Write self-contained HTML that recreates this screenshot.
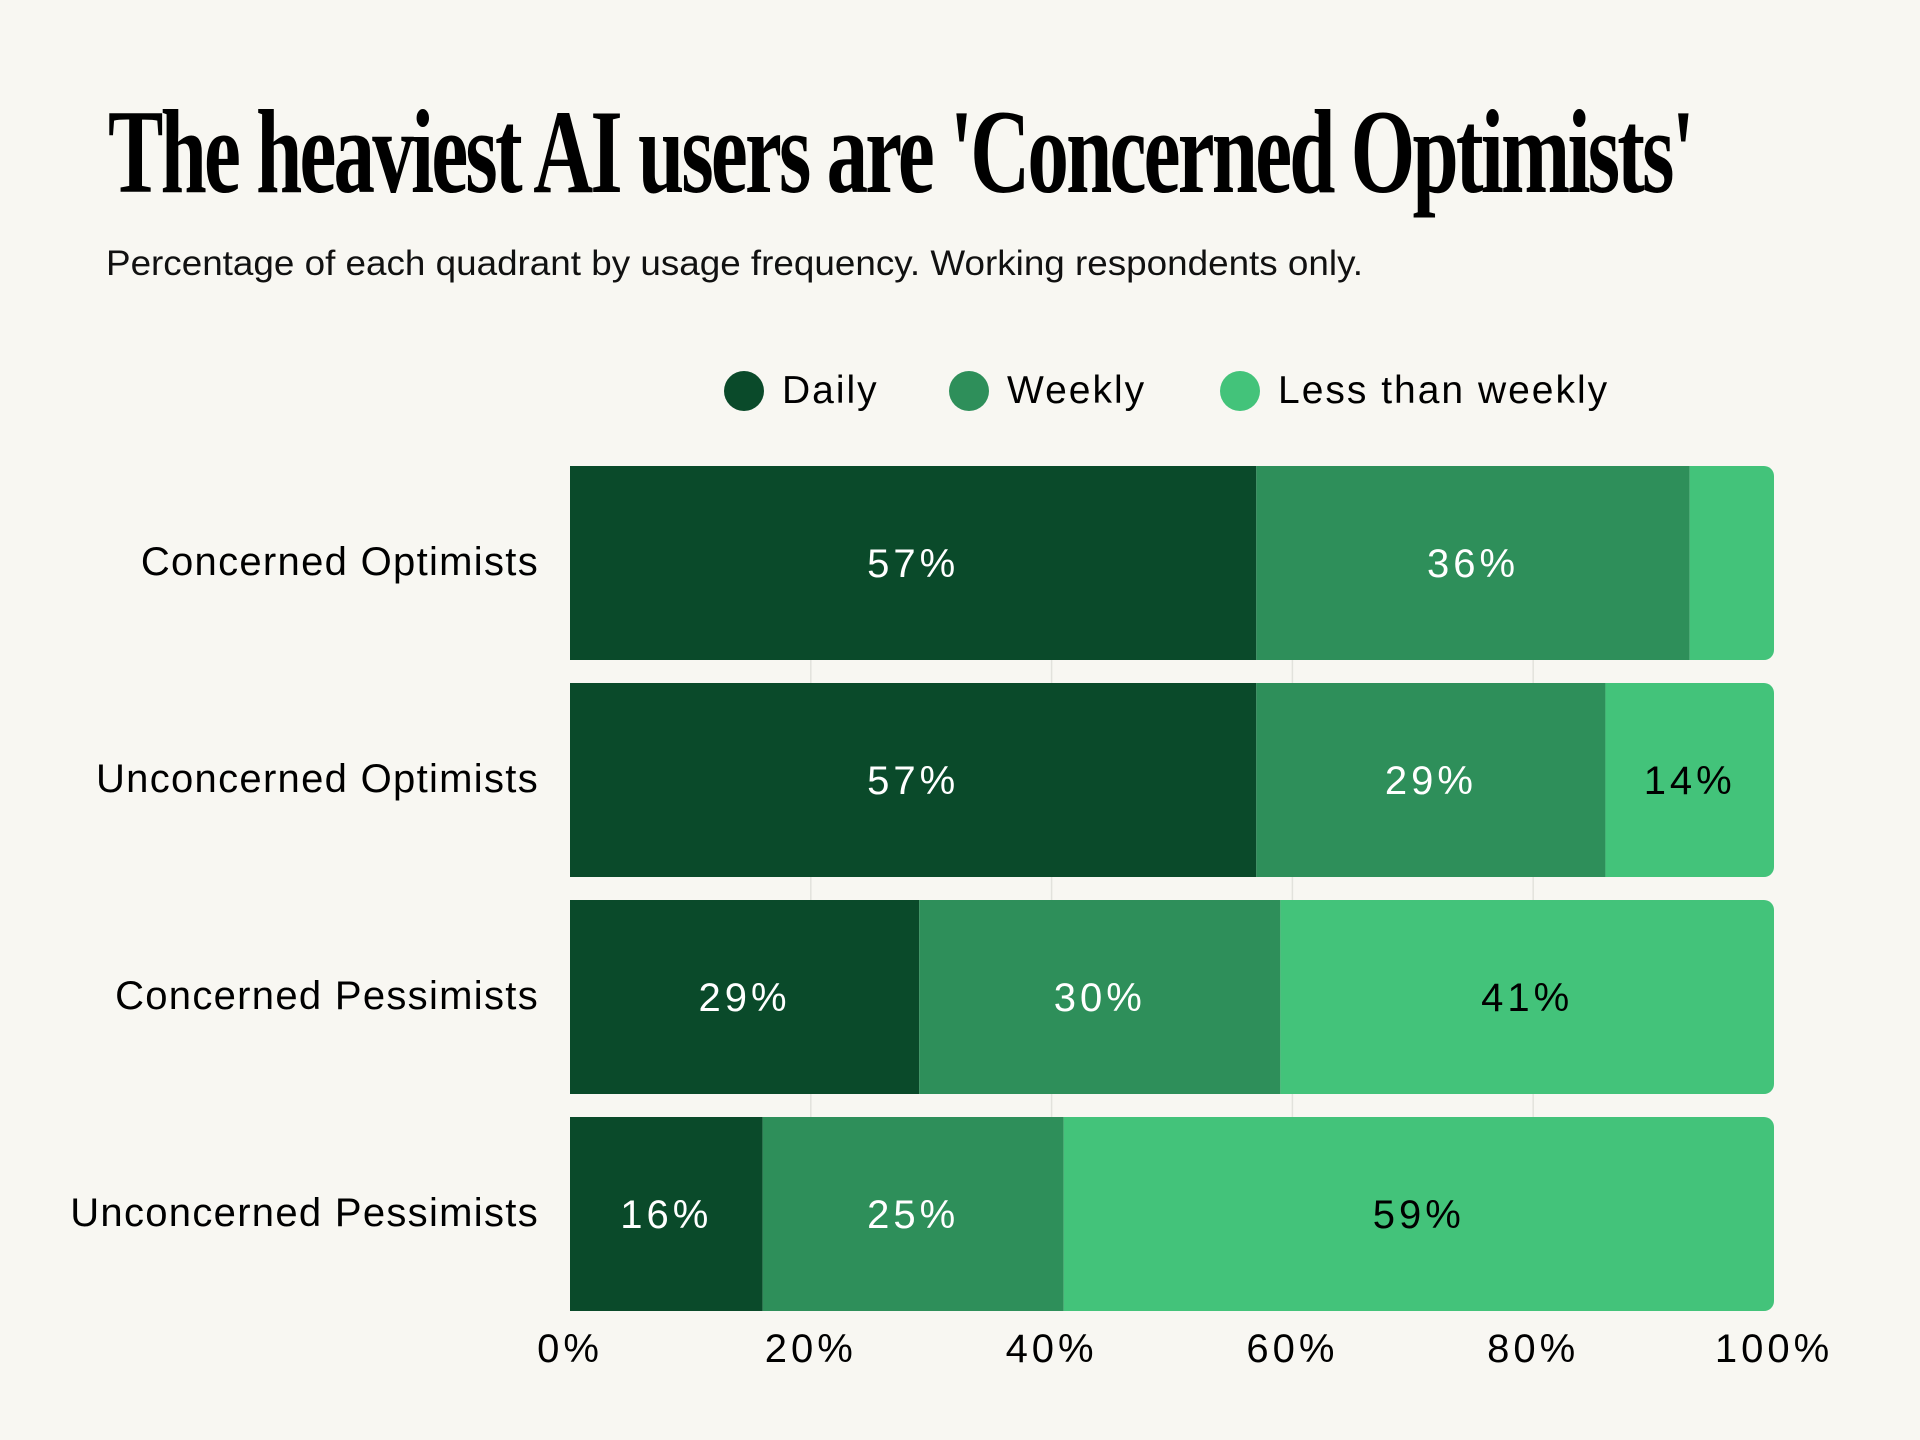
<!DOCTYPE html>
<html><head><meta charset="utf-8">
<style>
html,body{margin:0;padding:0;background:#f8f7f2;}
svg{display:block;}
</style></head>
<body>
<svg id="chart" width="1920" height="1440" viewBox="0 0 1920 1440" xmlns="http://www.w3.org/2000/svg">
<rect width="1920" height="1440" fill="#f8f7f2"/>
<text x="108" y="192" font-family="'Liberation Serif', serif" font-size="120" font-weight="bold" fill="#000" textLength="1584" lengthAdjust="spacingAndGlyphs" letter-spacing="-4">The heaviest AI users are 'Concerned Optimists'</text>
<text x="106" y="275" font-family="'Liberation Sans', sans-serif" font-size="35" fill="#111" textLength="1257" lengthAdjust="spacingAndGlyphs">Percentage of each quadrant by usage frequency. Working respondents only.</text>
<g id="legend"></g>
<g id="grid"></g>
<g id="bars"></g>
<g id="xaxis"></g>
<g id="yaxis"></g>
</svg>
<script>
const categories = ["Concerned Optimists","Unconcerned Optimists","Concerned Pessimists","Unconcerned Pessimists"];
const seriesNames = ["Daily","Weekly","Less than weekly"];
const daily = [57,57,29,16];
const weekly = [36,29,30,25];
const lessThanWeekly = [7,14,41,59];
const ticks = [0,20,40,60,80,100];
const tickLabels = ["0%","20%","40%","60%","80%","100%"];

const NS="http://www.w3.org/2000/svg";
const colors=["#0a4a2a","#2e8f5a","#43c37a"];
const textColors=["#fff","#fff","#000"];
const series=[daily,weekly,lessThanWeekly];
const X0=570,X1=1774,TOP=466,PITCH=217,BH=194;
const x=v=>X0+(X1-X0)*v/100;
const yb=i=>TOP+i*PITCH;
function el(tag,attrs,parent){const e=document.createElementNS(NS,tag);for(const k in attrs)e.setAttribute(k,attrs[k]);parent.appendChild(e);return e;}
const font="'Liberation Sans', sans-serif";

const grid=document.getElementById('grid');
ticks.forEach((t,i)=>{
  if(t===0||t===100)return;
  const l=el('line',{x1:x(t),x2:x(t),y1:TOP,y2:yb(3)+BH,stroke:"#e2e2dc","stroke-width":1.5},grid);
  
  
});

const bars=document.getElementById('bars');
categories.forEach((c,i)=>{
  let acc=0;
  const g=el('g',{},bars);
  
  
  const clipId='clip'+i;
  const cp=el('clipPath',{id:clipId},g);
  el('rect',{x:x(0)-20,y:yb(i),width:x(100)-x(0)+20,height:BH,rx:10},cp);
  series.forEach((s,j)=>{
    const v=s[i];
    const r=el('rect',{x:x(acc),y:yb(i),width:x(acc+v)-x(acc),height:BH,fill:colors[j],'clip-path':'url(#'+clipId+')'},g);
    
    
    if(v>=10){
      const t=el('text',{x:(x(acc)+x(acc+v))/2,y:yb(i)+BH/2+14,'text-anchor':'middle','font-family':font,'font-size':40,fill:textColors[j],'letter-spacing':4},g);
      t.textContent=v+"%";
      
      
    }
    acc+=v;
  });
});

const yaxis=document.getElementById('yaxis');
categories.forEach((c,i)=>{
  const t=el('text',{x:539,y:yb(i)+BH/2+12,'text-anchor':'end','font-family':font,'font-size':40,fill:"#000",'letter-spacing':1.3},yaxis);
  t.textContent=c;
  
  
});

const xaxis=document.getElementById('xaxis');
ticks.forEach((tv,i)=>{
  const t=el('text',{x:x(tv),y:1362,'text-anchor':'middle','font-family':font,'font-size':40,fill:"#000",'letter-spacing':4},xaxis);
  t.textContent=tickLabels[i];
  
  
});

const legend=document.getElementById('legend');
const lx=[744,969,1240];
seriesNames.forEach((n,j)=>{
  const c=el('circle',{cx:lx[j],cy:391,r:20,fill:colors[j]},legend);
  
  
  const t=el('text',{x:lx[j]+38,y:403,'font-family':font,'font-size':39,fill:"#000",'letter-spacing':2},legend);
  t.textContent=n;
  
  
});
</script>
</body></html>
